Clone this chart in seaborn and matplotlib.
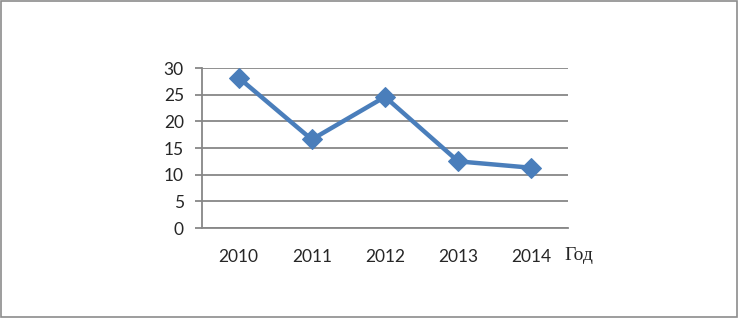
import pandas as pd
import matplotlib.pyplot as plt
import seaborn as sns
from matplotlib.patches import Rectangle

# Данные
years = ['2010', '2011', '2012', '2013', '2014']
values = [28.2, 16.6, 24.6, 12.5, 11.3]
y_ticks = [0, 5, 10, 15, 20, 25, 30]

df = pd.DataFrame({'Год': years, 'Значение': values})

sns.set_style('white')
plt.rcParams['font.family'] = ['Lato', 'DejaVu Sans']

fig = plt.figure(figsize=(7.38, 3.18), dpi=100)
ax = fig.add_axes([0.2737, 0.283, 0.4959, 0.503])

sns.lineplot(data=df, x='Год', y='Значение', ax=ax, color='#4A7EBB',
             linewidth=3.2, marker='D', markersize=10, markeredgecolor='#4A7EBB')

ax.set_xlim(-0.5, 4.5)
ax.set_ylim(0, 30)
ax.set_yticks(y_ticks)
ax.grid(axis='y', color='#878787', linewidth=1.3)
ax.set_axisbelow(True)
for s in ['top', 'right']:
    ax.spines[s].set_visible(False)
ax.spines['left'].set_color('#878787')
ax.spines['bottom'].set_color('#878787')
ax.spines['left'].set_linewidth(1.3)
ax.spines['bottom'].set_linewidth(1.3)
ax.tick_params(axis='y', length=5, width=1.3, color='#878787', labelsize=12.5, pad=8, left=True)
ax.tick_params(axis='x', length=0, labelsize=12.5, pad=15)
ax.set_xlabel('')
ax.set_ylabel('')

fig.text(0.765, 0.196, 'Год', fontsize=14, family='Liberation Serif', va='center', ha='left')

# рамка вокруг рисунка
fig.patches.append(Rectangle((0.001, 0.002), 0.997, 0.995, transform=fig.transFigure,
                             fill=False, edgecolor='#8c8c8c', linewidth=1.2))

plt.savefig('out.png', dpi=100)
